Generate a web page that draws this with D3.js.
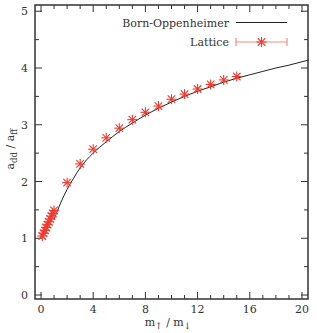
<!DOCTYPE html>
<html>
<head>
<meta charset="utf-8">
<script src="https://cdn.jsdelivr.net/npm/d3@7"></script>
<style>
  body { margin: 0; background: #fff; }
</style>
</head>
<body>
<svg id="chart" width="317" height="333"></svg>
<script>
// lattice points (mass ratio, a_dd/a_ff)
const latticeX = [0.1, 0.2, 0.3, 0.4, 0.5, 0.6, 0.7, 0.8, 0.9, 1.0, 2, 3, 4, 5, 6, 7, 8, 9, 10, 11, 12, 13, 14, 15];
const latticeY = [1.04, 1.09, 1.14, 1.19, 1.24, 1.29, 1.34, 1.39, 1.44, 1.49, 1.98, 2.31, 2.57, 2.77, 2.94, 3.09, 3.22, 3.33, 3.45, 3.54, 3.63, 3.71, 3.79, 3.85];

// Born-Oppenheimer curve
const boX = [1, 1.5, 2, 2.5, 3, 4, 5, 6, 7, 8, 9, 10, 11, 12, 13, 14, 15, 16, 17, 18, 19, 20, 20.5];
const boY = [1.33, 1.62, 1.86, 2.06, 2.24, 2.50, 2.70, 2.88, 3.03, 3.17, 3.29, 3.40, 3.50, 3.59, 3.67, 3.75, 3.82, 3.88, 3.94, 4.00, 4.05, 4.11, 4.14];

const xMajor = [0, 4, 8, 12, 16, 20];
const yMajor = [0, 1, 2, 3, 4, 5];

const svg = d3.select("#chart")
  .style("font-family", "DejaVu Serif")
  .attr("fill", "#333");
const pLeft = 35, pRight = 308, pTop = 5, pBottom = 299;

const x = d3.scaleLinear().domain([-0.46, 20.46]).range([pLeft, pRight]);
const y = d3.scaleLinear().domain([-0.07, 5.11]).range([pBottom, pTop]);

const axisColor = "#333";
const red = "#f03a2e";
const lightRed = "#f58a80";
const fs = "11px";

// ticks on all four sides
const g = svg.append("g");
const xMinor = d3.range(0, 21, 1);
const yMinor = d3.range(0, 5.01, 0.5);

xMinor.forEach(v => {
  const len = xMajor.includes(v) ? 7 : 4;
  g.append("line").attr("x1", x(v)).attr("x2", x(v)).attr("y1", pBottom).attr("y2", pBottom - len)
    .attr("stroke", axisColor).attr("stroke-width", 1);
  g.append("line").attr("x1", x(v)).attr("x2", x(v)).attr("y1", pTop).attr("y2", pTop + len)
    .attr("stroke", axisColor).attr("stroke-width", 1);
});
yMinor.forEach(v => {
  const len = yMajor.includes(v) ? 7 : 4;
  g.append("line").attr("x1", pLeft).attr("x2", pLeft + len).attr("y1", y(v)).attr("y2", y(v))
    .attr("stroke", axisColor).attr("stroke-width", 1);
  g.append("line").attr("x1", pRight).attr("x2", pRight - len).attr("y1", y(v)).attr("y2", y(v))
    .attr("stroke", axisColor).attr("stroke-width", 1);
});

g.append("rect").attr("x", pLeft).attr("y", pTop).attr("width", pRight - pLeft).attr("height", pBottom - pTop)
  .attr("fill", "none").attr("stroke", axisColor).attr("stroke-width", 1.5);

// tick labels
xMajor.forEach(v => {
  g.append("text").attr("x", x(v)).attr("y", pBottom + 14).attr("text-anchor", "middle")
    .attr("font-size", fs).text(v);
});
yMajor.forEach(v => {
  g.append("text").attr("x", pLeft - 7).attr("y", y(v) + 4).attr("text-anchor", "end")
    .attr("font-size", fs).text(v);
});

// axis titles
const xt = svg.append("text").attr("x", 168).attr("y", 326).attr("text-anchor", "middle").attr("font-size", fs);
xt.append("tspan").text("m");
xt.append("tspan").attr("font-size", "9px").attr("dy", 3).text("\u2191");
xt.append("tspan").attr("dy", -3).text(" / m");
xt.append("tspan").attr("font-size", "9px").attr("dy", 3).text("\u2193");

const yt = svg.append("text").attr("transform", "translate(14," + (y(2.5) - 4) + ") rotate(-90)")
  .attr("text-anchor", "middle").attr("font-size", fs);
yt.append("tspan").text("a");
yt.append("tspan").attr("font-size", "8.5px").attr("dy", 3).text("dd");
yt.append("tspan").attr("dy", -3).text(" / a");
yt.append("tspan").attr("font-size", "8.5px").attr("dy", 3).text("ff");

// curve
const curveData = boX.map((v, i) => [v, boY[i]]);
svg.append("path").datum(curveData)
  .attr("fill", "none").attr("stroke", "#222").attr("stroke-width", 1)
  .attr("d", d3.line().x(d => x(d[0])).y(d => y(d[1])).curve(d3.curveMonotoneX));

// asterisk marker
function star(sel, cx, cy, r) {
  const gg = sel.append("g").attr("transform", `translate(${cx},${cy})`)
    .attr("stroke", red).attr("stroke-width", 1.1);
  gg.append("line").attr("x1", -r).attr("x2", r).attr("y1", 0).attr("y2", 0);
  gg.append("line").attr("x1", 0).attr("x2", 0).attr("y1", -r).attr("y2", r);
  gg.append("line").attr("x1", -r * 0.75).attr("x2", r * 0.75).attr("y1", -r * 0.75).attr("y2", r * 0.75);
  gg.append("line").attr("x1", -r * 0.75).attr("x2", r * 0.75).attr("y1", r * 0.75).attr("y2", -r * 0.75);
}

const pts = svg.append("g");
latticeX.forEach((v, i) => star(pts, x(v), y(latticeY[i]), 5));

// legend
const legX = 229;
svg.append("text").attr("x", legX).attr("y", 26.5).attr("text-anchor", "end").attr("font-size", fs).text("Born-Oppenheimer");
svg.append("line").attr("x1", 236).attr("x2", 287).attr("y1", 22.5).attr("y2", 22.5).attr("stroke", "#222").attr("stroke-width", 1);

svg.append("text").attr("x", legX).attr("y", 46).attr("text-anchor", "end").attr("font-size", fs).text("Lattice");
const ly = 42;
svg.append("line").attr("x1", 236).attr("x2", 287).attr("y1", ly).attr("y2", ly).attr("stroke", lightRed).attr("stroke-width", 1.2);
svg.append("line").attr("x1", 236).attr("x2", 236).attr("y1", ly - 4).attr("y2", ly + 4).attr("stroke", lightRed).attr("stroke-width", 1.2);
svg.append("line").attr("x1", 287).attr("x2", 287).attr("y1", ly - 4).attr("y2", ly + 4).attr("stroke", lightRed).attr("stroke-width", 1.2);
star(svg, 261.5, ly, 5);
</script>
</body>
</html>
